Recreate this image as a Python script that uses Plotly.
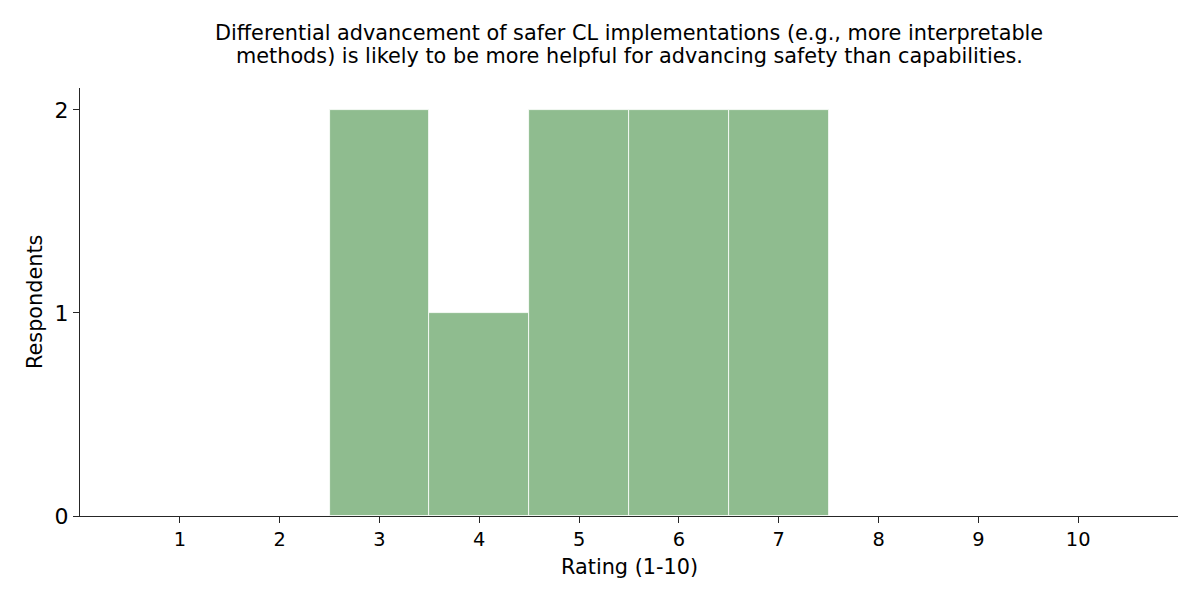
import plotly.graph_objects as go

ratings = [1, 2, 3, 4, 5, 6, 7, 8, 9, 10]
counts = [0, 0, 2, 1, 2, 2, 2, 0, 0, 0]
tick_labels = [str(r) for r in ratings]
y_ticks = [0, 1, 2]

title_lines = ["Differential advancement of safer CL implementations (e.g., more interpretable",
               "methods) is likely to be more helpful for advancing safety than capabilities."]
x_title = "Rating (1-10)"
y_title = "Respondents"

fig = go.Figure(go.Bar(
    x=ratings, y=counts, width=1.0,
    marker=dict(color="#8fbc8f", line=dict(color="white", width=0.8)),
))

axis_color = "#262626"
font_family = "DejaVu Sans"
fig.update_layout(
    width=1200, height=600,
    margin=dict(l=72, r=30, t=80, b=92),
    plot_bgcolor="white", paper_bgcolor="white",
    font=dict(family=font_family, color="black"),
    showlegend=False,
    bargap=0,
)
ann = []
for i, (line, yy) in enumerate(zip(title_lines, [1.1285, 1.0748])):
    ann.append(dict(text=line, xref="paper", yref="paper", x=0.5, y=yy,
                    xanchor="center", yanchor="middle", showarrow=False,
                    font=dict(size=20.8, family=font_family, color="black")))
ann.append(dict(text=x_title, xref="paper", yref="paper", x=0.5, y=-0.119,
                xanchor="center", yanchor="middle", showarrow=False,
                font=dict(size=20.8, family=font_family, color="black")))
ann.append(dict(text=y_title, xref="paper", yref="paper", x=-0.041, y=0.5,
                xanchor="center", yanchor="middle", showarrow=False, textangle=-90,
                font=dict(size=20.8, family=font_family, color="black")))
fig.update_layout(annotations=ann)

fig.update_xaxes(
    range=[0, 11], tickmode="array", tickvals=ratings, ticktext=tick_labels,
    showgrid=False, zeroline=False, showline=True, linecolor=axis_color, linewidth=1.3,
    ticks="outside", ticklen=6, tickcolor=axis_color, tickfont=dict(size=19.4),
)
fig.update_yaxes(
    range=[0, 2.108], tickmode="array", tickvals=y_ticks,
    showgrid=False, zeroline=False, showline=True, linecolor=axis_color, linewidth=1.3,
    ticks="outside", ticklen=6, tickcolor=axis_color, tickfont=dict(size=22),
)
fig.write_html("out.html")
